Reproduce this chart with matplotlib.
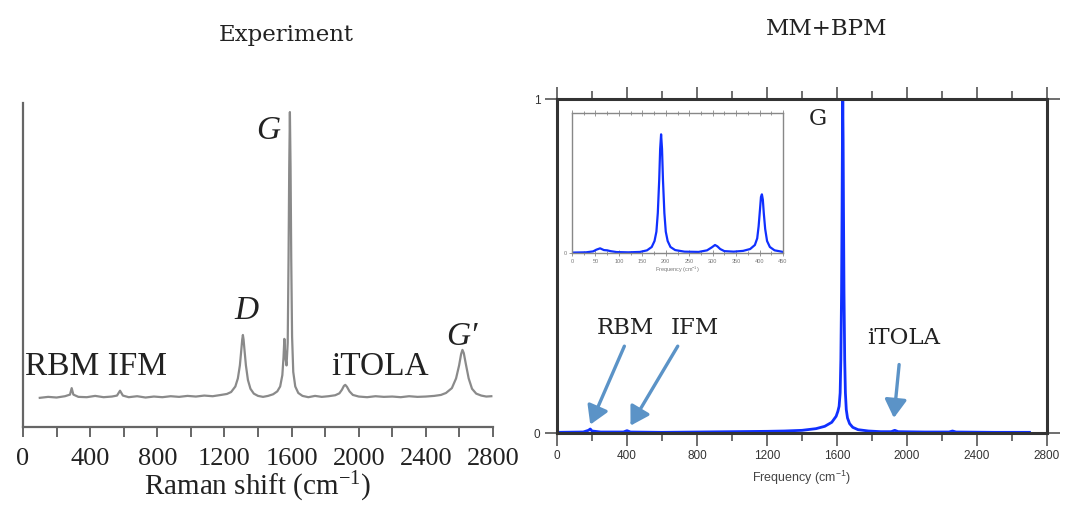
import numpy as np
import matplotlib
matplotlib.use("Agg")
import matplotlib.pyplot as plt
from matplotlib.ticker import MultipleLocator, FixedLocator

# -----------------------------
# Data
# -----------------------------

# experimental Raman spectrum (left), intensity in axis units
exp_x = [100, 150, 200, 250, 280, 290, 300, 330, 380, 430, 480, 530, 560, 578, 595,
         630, 680, 730, 780, 830, 880, 930, 980, 1030, 1080, 1130, 1180, 1215, 1240,
         1265, 1280, 1292, 1300, 1306, 1310, 1314, 1320, 1328, 1340, 1355, 1375, 1400,
         1430, 1460, 1490, 1515, 1532, 1545, 1552, 1557, 1563, 1570, 1577, 1582, 1586,
         1590, 1594, 1598, 1603, 1610, 1622, 1640, 1665, 1700, 1740, 1780, 1820, 1860,
         1885, 1900, 1912, 1920, 1930, 1945, 1965, 2000, 2050, 2100, 2150, 2200, 2250,
         2300, 2350, 2400, 2450, 2490, 2520, 2555, 2580, 2598, 2610, 2618, 2626, 2638,
         2655, 2675, 2700, 2730, 2760, 2790]
exp_y = [0.090, 0.093, 0.091, 0.095, 0.100, 0.120, 0.100, 0.093, 0.092, 0.096, 0.092,
         0.094, 0.097, 0.112, 0.097, 0.092, 0.095, 0.091, 0.094, 0.092, 0.095, 0.093,
         0.096, 0.094, 0.097, 0.095, 0.099, 0.102, 0.108, 0.125, 0.150, 0.190, 0.235,
         0.270, 0.284, 0.270, 0.235, 0.190, 0.145, 0.118, 0.103, 0.096, 0.093, 0.096,
         0.101, 0.110, 0.125, 0.160, 0.215, 0.272, 0.215, 0.190, 0.260, 0.520, 0.800,
         0.972, 0.800, 0.520, 0.280, 0.170, 0.125, 0.105, 0.096, 0.092, 0.096, 0.093,
         0.095, 0.098, 0.104, 0.115, 0.127, 0.130, 0.124, 0.110, 0.099, 0.094, 0.092,
         0.095, 0.093, 0.094, 0.092, 0.095, 0.093, 0.094, 0.096, 0.099, 0.105, 0.120,
         0.150, 0.190, 0.225, 0.238, 0.228, 0.195, 0.150, 0.118, 0.103, 0.097, 0.094,
         0.095]

# simulated spectrum MM+BPM (right), normalised
sim_x = [0, 150, 180, 190, 200, 250, 380, 400, 420, 600, 800, 1000, 1200, 1300, 1400,
         1480, 1530, 1570, 1595, 1605, 1612, 1618, 1622, 1626, 1629, 1631, 1633, 1635,
         1637, 1640, 1644, 1648, 1653, 1660, 1672, 1690, 1720, 1780, 1850, 1910, 1930,
         1950, 2100, 2240, 2260, 2280, 2500, 2700]
sim_y = [0.002, 0.003, 0.008, 0.012, 0.006, 0.003, 0.003, 0.007, 0.003, 0.002, 0.003,
         0.004, 0.005, 0.006, 0.008, 0.013, 0.020, 0.032, 0.050, 0.065, 0.080, 0.120,
         0.220, 0.420, 0.680, 0.880, 1.000, 0.880, 0.680, 0.420, 0.220, 0.120, 0.070,
         0.045, 0.028, 0.017, 0.010, 0.006, 0.004, 0.004, 0.008, 0.004, 0.003, 0.003,
         0.006, 0.003, 0.002, 0.002]

# low-frequency zoom (inset)
ins_x = [0, 30, 45, 52, 60, 68, 75, 82, 95, 120, 145, 160, 170, 176, 180, 183, 186,
         188, 190, 192, 194, 197, 200, 204, 210, 220, 240, 270, 288, 298, 305, 310, 316,
         325, 345, 365, 380, 390, 395, 398, 401, 403, 405, 407, 409, 412, 416, 422, 432,
         450]
ins_y = [0.003, 0.005, 0.012, 0.025, 0.035, 0.022, 0.020, 0.014, 0.007, 0.005, 0.008,
         0.020, 0.045, 0.090, 0.160, 0.300, 0.550, 0.780, 0.890, 0.780, 0.550, 0.300,
         0.160, 0.090, 0.045, 0.022, 0.010, 0.008, 0.020, 0.042, 0.060, 0.050, 0.030,
         0.014, 0.010, 0.016, 0.030, 0.060, 0.110, 0.200, 0.330, 0.420, 0.440, 0.400,
         0.300, 0.180, 0.090, 0.045, 0.020, 0.008]

W, H = 1079, 520


def box(left, top, right, bottom):
    return [left / W, 1 - bottom / H, (right - left) / W, (bottom - top) / H]


fig = plt.figure(figsize=(W / 100, H / 100), dpi=100)

# -----------------------------
# Left: Experiment
# -----------------------------
times = "Liberation Serif"
ax1 = fig.add_axes(box(23, 103, 493, 427))
ax1.plot(exp_x, exp_y, color="#8a8a8a", lw=1.6)
ax1.set_xlim(0, 2800)
ax1.set_ylim(0, 1)
for s in ["top", "right"]:
    ax1.spines[s].set_visible(False)
for s in ["left", "bottom"]:
    ax1.spines[s].set_color("#666666")
    ax1.spines[s].set_linewidth(1.6)
ax1.set_yticks([])
ax1.xaxis.set_major_locator(MultipleLocator(400))
ax1.xaxis.set_minor_locator(MultipleLocator(200))
ax1.tick_params(axis="x", which="both", direction="out", length=7, width=1.4,
                color="#666666", labelsize=19, pad=8)
for lab in ax1.get_xticklabels():
    lab.set_fontfamily(times)
    lab.set_color("#222222")
ax1.set_xlabel("Raman shift (cm$\\mathregular{^{-1}}$)", fontsize=21, family=times,
               color="#222222", labelpad=0)
ax1.text(0.56, 1.21, "Experiment", transform=ax1.transAxes, ha="center",
         va="center", fontsize=16.5, family="DejaVu Serif", color="#222222")

big = dict(fontsize=24, family=times, color="#222222", ha="center", va="center")
ax1.text(1458, 0.915, "G", style="italic", **big)
ax1.text(1333, 0.36, "D", style="italic", **big)
ax1.text(2614, 0.28, "G\u2032", style="italic", **big)
ax1.text(10, 0.185, "RBM IFM", fontsize=24, family=times, color="#222222",
         ha="left", va="center")
ax1.text(2130, 0.185, "iTOLA", **big)

# -----------------------------
# Right: MM+BPM
# -----------------------------
sans = "Liberation Sans"
ax2 = fig.add_axes(box(557, 99, 1047, 433))
ax2.plot(sim_x, sim_y, color="#1030ff", lw=2.0)
ax2.set_xlim(0, 2800)
ax2.set_ylim(0, 1)
for s in ax2.spines.values():
    s.set_color("#333333")
    s.set_linewidth(2.2)
ax2.xaxis.set_major_locator(MultipleLocator(400))
ax2.xaxis.set_minor_locator(MultipleLocator(200))
ax2.yaxis.set_major_locator(FixedLocator([0, 1]))
ax2.tick_params(axis="both", which="both", direction="out", length=9, width=1.2,
                color="#555555", top=True, right=True, labelsize=8.5, pad=3)
ax2.tick_params(axis="x", which="minor", length=6)
for lab in ax2.get_xticklabels() + ax2.get_yticklabels():
    lab.set_fontfamily(sans)
    lab.set_color("#333333")
ax2.set_xlabel("Frequency (cm$\\mathregular{^{-1}}$)", fontsize=9, family=sans,
               color="#444444", labelpad=5)
ax2.text(0.55, 1.21, "MM+BPM", transform=ax2.transAxes, ha="center",
         va="center", fontsize=16.5, family="DejaVu Serif", color="#222222")

serif = dict(fontsize=16.5, family="DejaVu Serif", color="#222222", ha="center",
             va="center")
ax2.text(1490, 0.94, "G", **serif)
ax2.text(390, 0.315, "RBM", **serif)
ax2.text(790, 0.315, "IFM", **serif)
ax2.text(1980, 0.285, "iTOLA", **serif)

arrow = dict(arrowstyle="-|>,head_length=0.5,head_width=0.3", color="#5b93c7",
             lw=2.4, mutation_scale=22, shrinkA=0, shrinkB=0)
ax2.annotate("", xy=(190, 0.025), xytext=(385, 0.26), arrowprops=arrow)
ax2.annotate("", xy=(420, 0.022), xytext=(690, 0.26), arrowprops=arrow)
ax2.annotate("", xy=(1925, 0.045), xytext=(1955, 0.205), arrowprops=arrow)

# inset
ax3 = fig.add_axes(box(572, 113, 783, 253))
ax3.plot(ins_x, ins_y, color="#1030ff", lw=1.6)
ax3.set_xlim(0, 450)
ax3.set_ylim(0, 1.05)
for s in ax3.spines.values():
    s.set_color("#888888")
    s.set_linewidth(1.0)
ax3.xaxis.set_major_locator(MultipleLocator(50))
ax3.xaxis.set_minor_locator(MultipleLocator(25))
ax3.yaxis.set_major_locator(FixedLocator([0]))
ax3.tick_params(axis="both", which="both", direction="inout", length=4, width=0.6,
                color="#888888", top=True, labelsize=4, pad=2)
ax3.tick_params(axis="x", which="minor", length=3)
for lab in ax3.get_xticklabels() + ax3.get_yticklabels():
    lab.set_fontfamily(sans)
    lab.set_color("#777777")
ax3.set_xlabel("Frequency (cm$\\mathregular{^{-1}}$)", fontsize=4, family=sans,
               color="#777777", labelpad=1)

fig.savefig("out.png", dpi=100, facecolor="white")
